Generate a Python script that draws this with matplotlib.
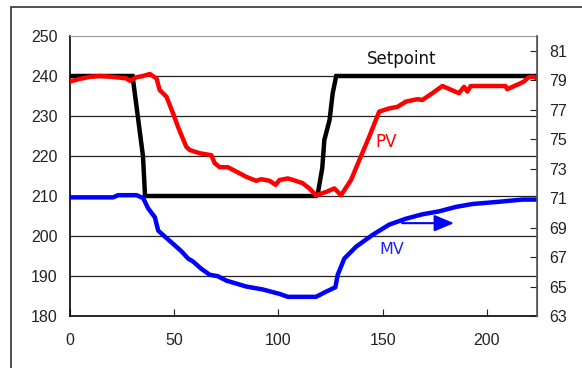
import matplotlib
matplotlib.use("Agg")
import matplotlib.pyplot as plt

# setpoint (left axis)
sp_x = [0, 30, 32.5, 35, 36, 118, 119, 121, 122, 124.5, 126, 127.7, 224]
sp_y = [240, 240, 230, 220, 210, 210, 211, 217, 224, 229, 235.7, 240, 240]

# process value (left axis)
pv_x = [0, 4, 9.6, 14.4, 20, 27, 28.7, 31.9, 35, 38.3, 41.5, 43, 46.3, 49.4,
        51.8, 54, 55.8, 57.4, 62.2, 67.8, 69.4, 71.8, 75.7, 79.8, 84.5, 89.3,
        91.7, 95.7, 98.6, 100.5, 104.5, 107, 111.6, 114.8, 118, 122.8, 126.8,
        130, 134.8, 138.8, 143.5, 148.3, 153.1, 157.1, 161.1, 166.6, 169,
        173.8, 178.6, 186.6, 189, 190.6, 192.2, 200, 208.9, 209.7, 215.3,
        217.7, 220, 222.5, 224]
pv_y = [238.6, 239.2, 239.8, 240, 239.8, 239.4, 238.8, 239.7, 240, 240.5,
        239.4, 236.5, 234.8, 230.7, 227.3, 224.5, 222.3, 221.5, 220.7, 220.2,
        218.2, 217.2, 217.2, 216.1, 214.8, 213.8, 214.2, 213.8, 212.8, 214,
        214.4, 214.0, 213.2, 211.9, 210.2, 211.0, 211.9, 210.2, 214, 219,
        224.8, 231.1, 231.9, 232.3, 233.6, 234.2, 234, 235.7, 237.5, 235.7,
        237.3, 236.1, 237.5, 237.5, 237.5, 236.7, 238, 238.6, 239.7, 239.8,
        239.3]

# manipulated value (right axis)
mv_x = [0, 20.7, 23.1, 31.9, 35.1, 37.5, 40.7, 42.3, 44.6, 49.4, 53.4, 56.6,
        59, 63, 67, 70.9, 75, 84.5, 92.5, 100.5, 104.5, 118, 122.8, 127.3,
        128.4, 131.6, 137.2, 145.1, 153.1, 161.1, 169, 177, 185, 193, 205.7,
        216.9, 224]
mv_y = [71.05, 71.05, 71.2, 71.2, 71.0, 70.3, 69.7, 68.8, 68.5, 67.9, 67.4,
        66.9, 66.7, 66.2, 65.8, 65.7, 65.4, 65.0, 64.8, 64.5, 64.3, 64.3,
        64.65, 64.95, 65.8, 66.9, 67.7, 68.5, 69.2, 69.6, 69.9, 70.1, 70.4,
        70.6, 70.75, 70.9, 70.9]

x_ticks = [0, 50, 100, 150, 200]
left_ticks = [180, 190, 200, 210, 220, 230, 240, 250]
right_ticks = [63, 65, 67, 69, 71, 73, 75, 77, 79, 81]

plt.rcParams["font.family"] = ["Liberation Sans", "DejaVu Sans"]

fig = plt.figure(figsize=(5.82, 3.68), dpi=100)
ax = fig.add_axes([70 / 582, 1 - 316 / 368, 467 / 582, 280 / 368])

# outer chart frame
fig.add_artist(plt.Rectangle((11 / 582, -0.1), 1.2, 1.1 - 7 / 368,
                             transform=fig.transFigure, fill=False,
                             edgecolor="#333333", lw=1.2))

# gridlines
for v in left_ticks[1:-1]:
    ax.axhline(v, color="#222222", lw=0.9, zorder=1)

ax.plot(sp_x, sp_y, color="black", lw=3.2, zorder=3, solid_joinstyle="miter")
ax.plot(pv_x, pv_y, color="#ff0000", lw=3.2, zorder=4)

ax.set_xlim(0, 224)
ax.set_ylim(180, 250)
ax.set_xticks(x_ticks)
ax.set_yticks(left_ticks)
ax.tick_params(axis="x", direction="in", length=5, pad=12, labelsize=11.5,
               colors="#222222")
ax.tick_params(axis="y", direction="in", length=0, pad=9, labelsize=11.5,
               colors="#222222")
ax.spines["top"].set_color("#999999")
ax.spines["right"].set_color("#555555")
ax.spines["left"].set_linewidth(1.2)
ax.spines["bottom"].set_linewidth(1.2)

ax2 = ax.twinx()
ax2.plot(mv_x, mv_y, color="#0000ff", lw=3.2)
ax2.set_ylim(63, 82)
ax2.set_yticks(right_ticks)
ax2.tick_params(axis="y", direction="in", length=5, pad=9, labelsize=11.5,
                colors="#222222")
ax2.spines["top"].set_visible(False)
ax2.spines["left"].set_visible(False)
ax2.spines["bottom"].set_visible(False)
ax2.spines["right"].set_color("#555555")
ax2.spines["right"].set_linewidth(1.2)

# labels
ax2.text(159.3, 80.45, "Setpoint", color="#111111", fontsize=12,
         family="DejaVu Sans", ha="center", va="center")
ax2.text(151.5, 74.8, "PV", color="#ff0000", fontsize=12,
         family="DejaVu Sans", ha="center", va="center")
ax2.text(154.5, 67.5, "MV", color="#2222ff", fontsize=11.5,
         family="DejaVu Sans", ha="center", va="center")
ax2.annotate("", xy=(184.2, 69.3), xytext=(159.3, 69.3),
             arrowprops=dict(arrowstyle="-|>,head_length=0.6,head_width=0.25",
                             color="#0000ff", lw=1.5, mutation_scale=20,
                             shrinkA=0, shrinkB=0))

fig.savefig("out.png", dpi=100)
